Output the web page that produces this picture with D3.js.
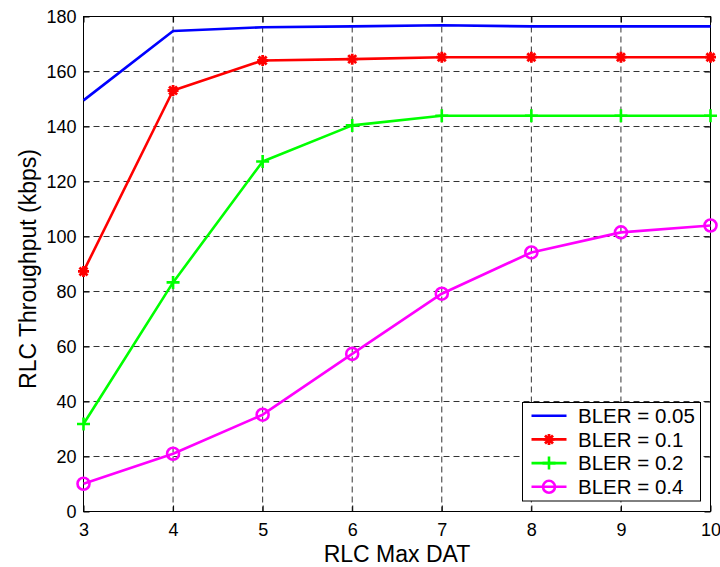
<!DOCTYPE html>
<html><head><meta charset="utf-8">
<script src="https://cdn.jsdelivr.net/npm/d3@7"></script>
<style>body{margin:0;background:#fff}svg{display:block}text{font-family:"Liberation Sans",Arial,sans-serif;fill:#000}</style>
</head><body><svg id="c" width="720" height="567"></svg>
<script>
const maxDat = [3,4,5,6,7,8,9,10];
const bler005 = [149.5,174.7,176.1,176.4,176.8,176.4,176.4,176.4];
const bler01  = [87.3,153.1,164.0,164.5,165.2,165.2,165.2,165.2];
const bler02  = [31.8,83.3,127.3,140.4,143.9,143.9,143.9,143.9];
const bler04  = [10.1,21.0,35.2,57.3,79.2,94.2,101.5,104.0];
const seriesNames = ["BLER = 0.05","BLER = 0.1","BLER = 0.2","BLER = 0.4"];
const seriesColors = ["#0000ff","#ff0000","#00ff00","#ff00ff"];
const seriesMarkers = ["none","star","plus","circle"];
const yTicks = [0,20,40,60,80,100,120,140,160,180];
const xTicks = [3,4,5,6,7,8,9,10];
const xTitle = "RLC Max DAT";
const yTitle = "RLC Throughput (kbps)";

const series = [bler005,bler01,bler02,bler04].map((v,i)=>({name:seriesNames[i],color:seriesColors[i],marker:seriesMarkers[i],values:v}));

const L=83.5,R=710.5,T=16.5,B=511.5;
const svg=d3.select("#c");
const x=d3.scaleLinear().domain([3,10]).range([L,R]);
const y=d3.scaleLinear().domain([0,180]).range([B,T]);

// grid
const g=svg.append("g");
g.selectAll(".gx").data(xTicks.slice(1,-1)).enter().append("line")
 .attr("x1",d=>x(d)).attr("x2",d=>x(d)).attr("y1",T).attr("y2",B)
 .attr("stroke","#333").attr("stroke-width",1).attr("stroke-dasharray","6,4");
g.selectAll(".gy").data(yTicks.slice(1,-1)).enter().append("line")
 .attr("y1",d=>y(d)).attr("y2",d=>y(d)).attr("x1",L).attr("x2",R)
 .attr("stroke","#333").attr("stroke-width",1).attr("stroke-dasharray","6,4");

// axes
const ax=svg.append("g").attr("transform",`translate(0,${B})`).call(d3.axisBottom(x).tickValues(xTicks).tickSize(-6).tickPadding(12).tickFormat(d3.format("d")));
const ay=svg.append("g").attr("transform",`translate(${L},0)`).call(d3.axisLeft(y).tickValues(yTicks).tickSize(-6).tickPadding(7).tickFormat(d3.format("d")));
const at=svg.append("g").attr("transform",`translate(0,${T})`).call(d3.axisTop(x).tickValues(xTicks).tickSize(-6).tickFormat(""));
const ar=svg.append("g").attr("transform",`translate(${R},0)`).call(d3.axisRight(y).tickValues(yTicks).tickSize(-6).tickFormat(""));
[ax,ay,at,ar].forEach(a=>{a.select(".domain").remove();a.selectAll("line").attr("stroke","#000");a.selectAll("text").style("font-size","18px").attr("fill","#000").style("font-family",'"Liberation Sans",Arial,sans-serif');});
svg.append("rect").attr("x",L).attr("y",T).attr("width",R-L).attr("height",B-T).attr("fill","none").attr("stroke","#000").attr("stroke-width",1);

// lines
const line=d3.line().x((d,i)=>x(maxDat[i])).y(d=>y(d));
function marker(sel,type,color){
  if(type==="star"){
    const s=5.5,t=4;
    sel.append("path").attr("d",`M${-s},0L${s},0M0,${-s}L0,${s}M${-t},${-t}L${t},${t}M${-t},${t}L${t},${-t}`).attr("stroke",color).attr("stroke-width",2.8).attr("fill","none");
  } else if(type==="plus"){
    const s=6.5;
    sel.append("path").attr("d",`M${-s},0L${s},0M0,${-s}L0,${s}`).attr("stroke",color).attr("stroke-width",2.6).attr("fill","none");
  } else if(type==="circle"){
    sel.append("circle").attr("r",6).attr("stroke",color).attr("stroke-width",2.6).attr("fill","none");
  }
}
series.forEach(s=>{
  svg.append("path").datum(s.values).attr("d",line).attr("fill","none").attr("stroke",s.color).attr("stroke-width",2.6).attr("stroke-linejoin","round");
  s.values.forEach((v,i)=>{
    const m=svg.append("g").attr("transform",`translate(${x(maxDat[i])},${y(v)})`);
    marker(m,s.marker,s.color);
  });
});

// legend
const lg=svg.append("g");
lg.append("rect").attr("x",522.5).attr("y",402.5).attr("width",178).attr("height",98.5).attr("fill","#fff").attr("stroke","#000").attr("stroke-width",1);
series.forEach((s,i)=>{
  const cy=415.7+i*23.7;
  lg.append("line").attr("x1",531.5).attr("x2",566.5).attr("y1",cy).attr("y2",cy).attr("stroke",s.color).attr("stroke-width",2.6);
  const m=lg.append("g").attr("transform",`translate(549,${cy})`);
  marker(m,s.marker,s.color);
  lg.append("text").attr("x",578).attr("y",cy).attr("dy","0.36em").style("font-size","20.5px").text(s.name);
});

// titles
svg.append("text").attr("x",(L+R)/2).attr("y",561.5).attr("text-anchor","middle").style("font-size","23px").text(xTitle);
svg.append("text").attr("transform",`translate(36,269) rotate(-90)`).attr("text-anchor","middle").style("font-size","23px").text(yTitle);
</script></body></html>
